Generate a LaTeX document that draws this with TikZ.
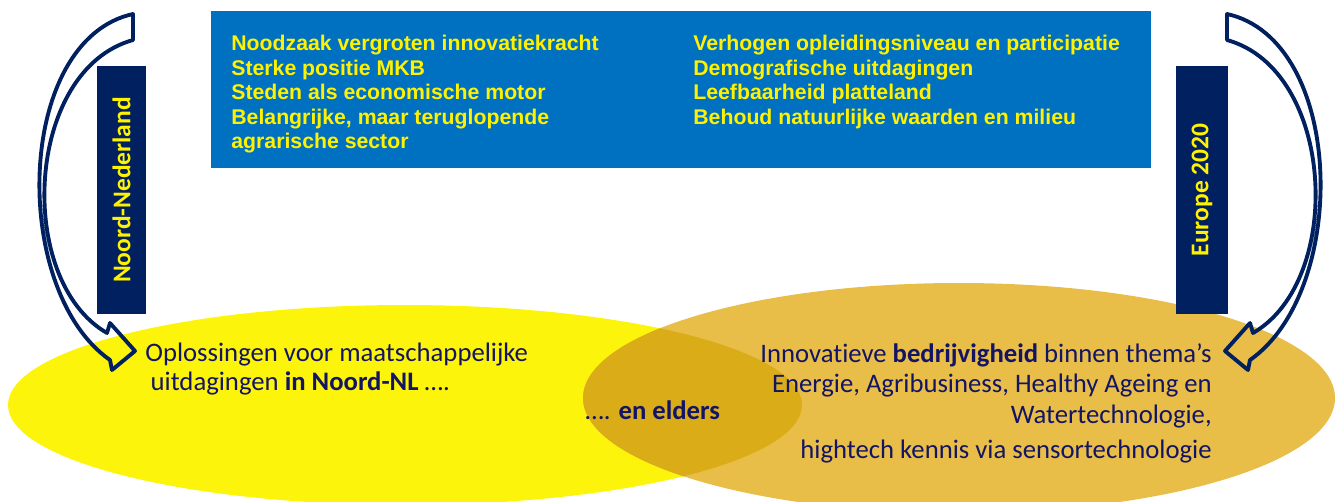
\documentclass[tikz,border=0pt]{standalone}
\usepackage{fontspec}
\setmainfont{Carlito}[Ligatures=NoCommon]
\newfontfamily\arialfont{Liberation Sans}
\usetikzlibrary{positioning}
\definecolor{boxblue}{RGB}{0,112,192}
\definecolor{barnavy}{RGB}{0,32,96}
\definecolor{txtnavy}{RGB}{20,20,100}
\definecolor{ellyellow}{RGB}{252,244,10}
\definecolor{ellgold}{RGB}{232,190,72}
\definecolor{ellmix}{RGB}{218,172,24}
\tikzset{%
	listtext/.style={
		font=\arialfont\bfseries\fontsize{12.1}{13.9}\selectfont,
		text=yellow,
		align=left,
		inner sep=0pt
	},
	bar/.style={
		fill=barnavy,
		text=yellow,
		font=\bfseries\fontsize{14.5}{16}\selectfont,
		rotate=90,
		minimum height=0.98cm,
		minimum width=4.96cm,
		inner sep=0pt
	},
	elltext/.style={
		font=\fontsize{15.2}{17.5}\selectfont,
		text=txtnavy,
		inner sep=0pt
	},
	bigarrow/.style={
		draw=barnavy,
		line width=2.2pt,
		line join=round
	},
}
\begin{document}
\begin{tikzpicture}[x=0.02cm, y=-0.02cm]
	\useasboundingbox (0,0) rectangle (1338,501);
	
	% Draw the two ellipses and the part where they overlap
	\begin{scope}
		\clip (0,0) rectangle (1338,501);
		\fill[ellyellow] (405,405) ellipse [x radius=397, y radius=100];
		\fill[ellgold] (959,398) ellipse [x radius=376, y radius=115];
		\begin{scope}
			\clip (405,405) ellipse [x radius=397, y radius=100];
			\fill[ellmix] (959,398) ellipse [x radius=376, y radius=115];
		\end{scope}
	\end{scope}
	
	% Draw the blue box with the themes
	\fill[boxblue] (211,11) rectangle (1151,168);
	\node[listtext, anchor=north west] (leftlist) at (231,35) {Noodzaak vergroten innovatiekracht\\Sterke positie MKB\\Steden als economische motor\\Belangrijke, maar teruglopende\\agrarische sector};
	\node[listtext, anchor=north west] (rightlist) at (693,35) {Verhogen opleidingsniveau en participatie\\Demografische uitdagingen\\Leefbaarheid platteland\\Behoud natuurlijke waarden en milieu};
	
	% Draw the bars
	\node[bar] (nnbar) at (121.5,190) {Noord-Nederland};
	\node[bar, minimum height=1.04cm] (eubar) at (1202,190) {Europe 2020};
	
	% Draw the curved arrows
	\draw[bigarrow] (133,14) .. controls (15,40) and (10,290) .. (110,360)
		-- (112,370) -- (135,351) -- (110,323) -- (107,333)
		.. controls (15,280) and (25,70) .. (133,40) -- cycle;
	\draw[bigarrow] (1227,14) .. controls (1345,40) and (1350,290) .. (1250,360)
		-- (1248,370) -- (1225,351) -- (1250,323) -- (1253,333)
		.. controls (1345,280) and (1335,70) .. (1227,40) -- cycle;
	
	% Text in the ellipses
	\node[elltext, font=\fontsize{15.2}{16}\selectfont, align=left, anchor=north west] (nntext) at (145,343) {Oplossingen voor maatschappelijke\\\hspace*{0.2em}uitdagingen \textbf{in Noord-NL} ….};
	\node[elltext, anchor=west] (elders) at (585,410) {…. \textbf{en elders}};
	\node[elltext, align=right, anchor=north east] (eutext) at (1212,343) {Innovatieve \textbf{bedrijvigheid} binnen thema’s\\Energie, Agribusiness, Healthy Ageing en\\Watertechnologie,\\[2.3pt]hightech kennis via sensortechnologie};
	
\end{tikzpicture}
\end{document}
